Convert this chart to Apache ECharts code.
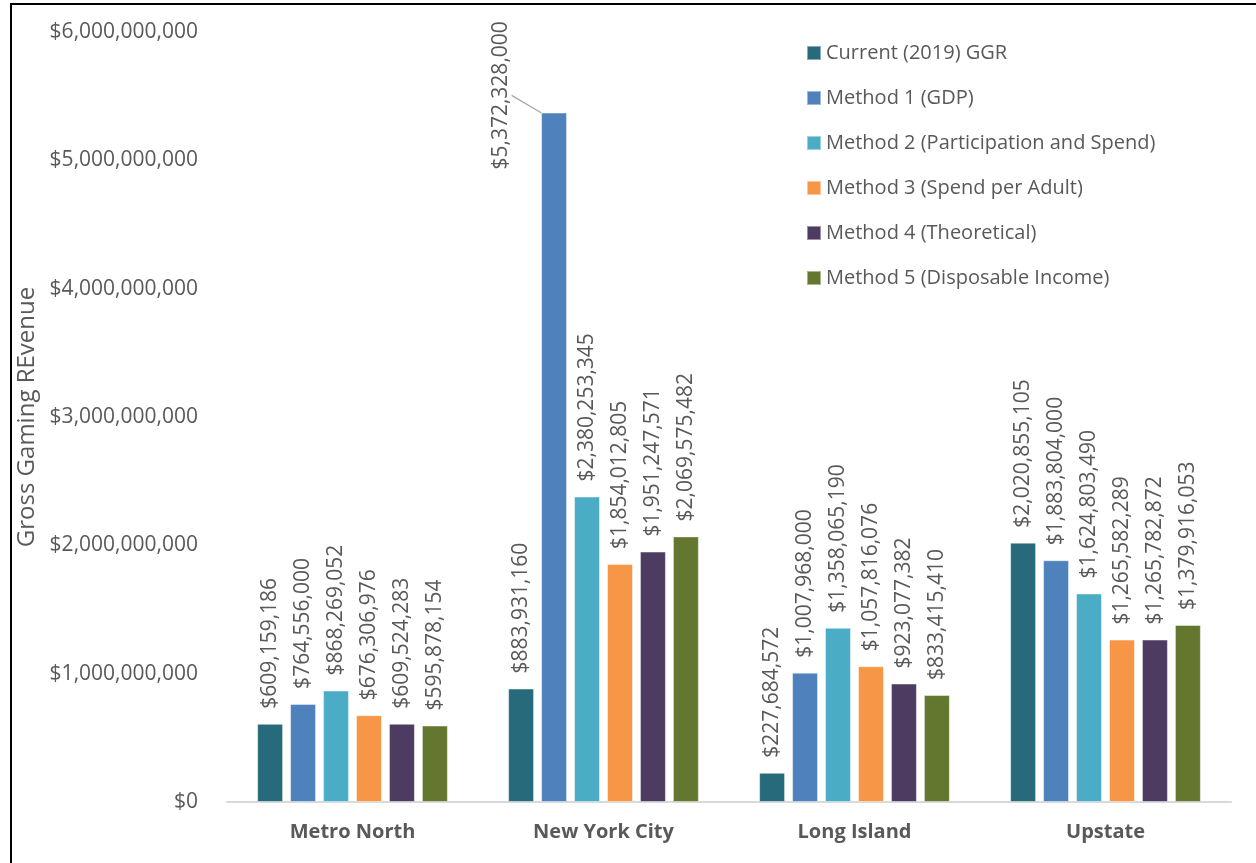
<!DOCTYPE html>
<html>
<head>
<meta charset="utf-8">
<script src="https://cdn.jsdelivr.net/npm/echarts@6/dist/echarts.min.js"></script>
<style>
  html, body { margin: 0; padding: 0; background: #fff; }
  #main { width: 1256px; height: 863px; }
  #frame { position: absolute; left: 10px; top: 3px; width: 1260px; height: 870px;
           border-left: 2px solid #000; border-top: 2px solid #000; pointer-events: none; }
</style>
</head>
<body>
<div id="main"></div>
<div id="frame"></div>
<script>
// regions on the x axis
var regions = ['Metro North', 'New York City', 'Long Island', 'Upstate'];

// one list per estimate
var current2019 = [609159186, 883931160, 227684572, 2020855105];
var method1 = [764556000, 5372328000, 1007968000, 1883804000];
var method2 = [868269052, 2380253345, 1358065190, 1624803490];
var method3 = [676306976, 1854012805, 1057816076, 1265582289];
var method4 = [609524283, 1951247571, 923077382, 1265782872];
var method5 = [595878154, 2069575482, 833415410, 1379916053];

var seriesNames = [
  'Current (2019) GGR',
  'Method 1 (GDP)',
  'Method 2 (Participation and Spend)',
  'Method 3 (Spend per Adult)',
  'Method 4 (Theoretical)',
  'Method 5 (Disposable Income)'
];
var seriesValues = [current2019, method1, method2, method3, method4, method5];
var colors = ['#276A7B', '#4F81BD', '#4BACC6', '#F79646', '#4D3B62', '#63772F'];

var FONT = '"Open Sans", "Liberation Sans", sans-serif';
var GREY = '#595959';

function money(v) {
  return '$' + Number(v).toLocaleString('en-US');
}

var series = seriesValues.map(function (vals, i) {
  var s = {
    name: seriesNames[i],
    type: 'bar',
    data: vals,
    barGap: '27%',
    barCategoryGap: '24%',
    itemStyle: { color: colors[i], borderColor: 'rgba(255,255,255,0.45)', borderWidth: 1 },
    label: {
      show: true,
      position: 'top',
      rotate: 90,
      align: 'left',
      verticalAlign: 'middle',
      distance: 15,
      color: GREY,
      fontFamily: FONT,
      fontSize: 21,
      formatter: function (p) { return money(p.value); }
    }
  };
  if (i === 1) {
    // the tall New York City bar has its label pulled to the left, with a leader line
    s.data = vals.map(function (v, k) {
      return { value: v, labelLine: { show: k === 1 } };
    });
    s.labelLayout = function (p) {
      // dx/dy act in the rotated label's own frame
      if (p.dataIndex === 1) return { dx: -72, dy: -53 };
      return {};
    };
    s.labelLine = { lineStyle: { color: '#A6A6A6', width: 1.2 } };
  }
  return s;
});

var myChart = echarts.init(document.getElementById('main'));
var option = {
  animation: false,
  color: colors,
  grid: { left: 227, right: 25, top: 32, bottom: 61, containLabel: false },
  legend: {
    orient: 'vertical',
    left: 801,
    top: 38,
    itemWidth: 14,
    itemHeight: 14,
    itemGap: 25,
    icon: 'rect',
    textStyle: { color: GREY, fontFamily: FONT, fontSize: 20 },
    data: seriesNames
  },
  xAxis: {
    type: 'category',
    data: regions,
    axisTick: { show: false },
    axisLine: { lineStyle: { color: '#D9D9D9', width: 2 } },
    axisLabel: { color: GREY, fontFamily: FONT, fontSize: 20, fontWeight: 'bold', margin: 20 }
  },
  yAxis: {
    type: 'value',
    min: 0,
    max: 6000000000,
    interval: 1000000000,
    name: 'Gross Gaming REvenue',
    nameLocation: 'middle',
    nameGap: 177,
    nameTextStyle: { color: GREY, fontFamily: FONT, fontSize: 24 },
    splitLine: { show: false },
    axisLine: { show: false },
    axisTick: { show: false },
    axisLabel: {
      color: GREY, fontFamily: FONT, fontSize: 21, margin: 29,
      formatter: function (v) { return money(v); }
    }
  },
  series: series
};
myChart.setOption(option);
</script>
</body>
</html>
